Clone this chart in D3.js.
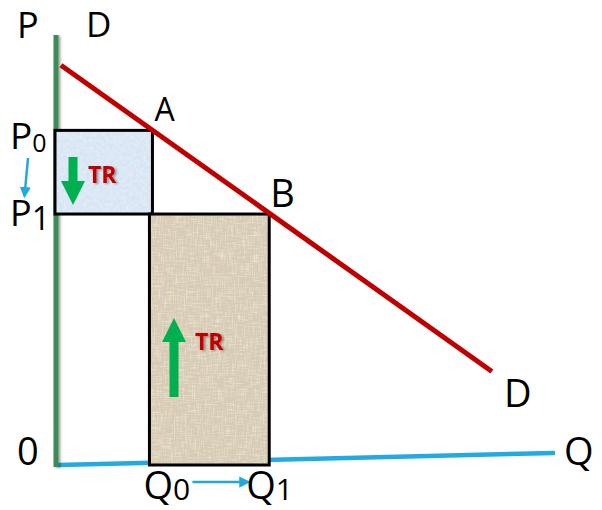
<!DOCTYPE html>
<html>
<head>
<meta charset="utf-8">
<script src="https://cdn.jsdelivr.net/npm/d3@7"></script>
<style>
  body { margin: 0; background: #fff; }
  text { font-family: "Open Sans", "Noto Sans", sans-serif; fill: #000; }
</style>
</head>
<body>
<div id="chart"></div>
<script>
const W = 602, H = 510;

// data (economic units, 0-100 on both axes)
const quantities = [19, 42.5];          // Q0, Q1
const prices = [78, 58.5];              // P0, P1
const demandEnds = [[0.6, 93.2], [87.3, 21.8]];
const qAxisEnd = [100, 2.8];
const qLabels = ["0", "1"];

const x = d3.scaleLinear().domain([0, 100]).range([58, 555]);
const y = d3.scaleLinear().domain([0, 100]).range([465, 36]);

const svg = d3.select("#chart").append("svg")
    .attr("width", W).attr("height", H);

const defs = svg.append("defs");

// light blue paper texture
const fb = defs.append("filter").attr("id", "texBlue").attr("x", 0).attr("y", 0).attr("width", 1).attr("height", 1);
fb.append("feTurbulence").attr("type", "fractalNoise").attr("baseFrequency", "0.3").attr("numOctaves", 2).attr("seed", 3).attr("result", "n");
fb.append("feColorMatrix").attr("in", "n").attr("type", "matrix")
  .attr("values", "0 0 0 0 0.95  0 0 0 0 0.97  0 0 0 0 1  0 0 0 0.7 -0.2").attr("result", "c");
fb.append("feComposite").attr("in", "c").attr("in2", "SourceGraphic").attr("operator", "atop");

// burlap texture
const fr = defs.append("filter").attr("id", "texBurlap").attr("x", 0).attr("y", 0).attr("width", 1).attr("height", 1);
fr.append("feTurbulence").attr("type", "fractalNoise").attr("baseFrequency", "0.9 0.08").attr("numOctaves", 2).attr("seed", 5).attr("result", "v");
fr.append("feTurbulence").attr("type", "fractalNoise").attr("baseFrequency", "0.08 0.9").attr("numOctaves", 2).attr("seed", 9).attr("result", "h");
fr.append("feBlend").attr("in", "v").attr("in2", "h").attr("mode", "multiply").attr("result", "vh");
fr.append("feColorMatrix").attr("in", "vh").attr("type", "matrix")
  .attr("values", "0 0 0 0 0.97  0 0 0 0 0.95  0 0 0 0 0.9  -1.6 0 0 0 0.75").attr("result", "c");
fr.append("feComposite").attr("in", "c").attr("in2", "SourceGraphic").attr("operator", "atop");

const shadow = defs.append("filter").attr("id", "shadow")
    .attr("filterUnits", "userSpaceOnUse").attr("x", 0).attr("y", 0).attr("width", W).attr("height", H);
shadow.append("feDropShadow").attr("dx", 2).attr("dy", 1).attr("stdDeviation", 1.2).attr("flood-color", "#000").attr("flood-opacity", 0.35);

defs.append("marker").attr("id", "blueHead")
    .attr("viewBox", "0 0 10 10").attr("refX", 8).attr("refY", 5)
    .attr("markerWidth", 4.5).attr("markerHeight", 4.5).attr("markerUnits", "strokeWidth")
    .attr("orient", "auto")
    .append("path").attr("d", "M0,0L10,5L0,10Z").attr("fill", "#22a8e0");

// axes
svg.append("line")
    .attr("x1", x(0)).attr("y1", y(0)).attr("x2", x(qAxisEnd[0])).attr("y2", y(qAxisEnd[1]))
    .attr("stroke", "#22aae2").attr("stroke-width", 4.5);
svg.append("line")
    .attr("x1", x(0) - 2).attr("y1", y(100) - 1).attr("x2", x(0) - 2).attr("y2", y(0) + 2)
    .attr("stroke", "#3b8c55").attr("stroke-width", 5).attr("filter", "url(#shadow)");

// TR rectangles
const rects = [
  { x0: 0, x1: quantities[0], y0: prices[1], y1: prices[0], fill: "#d6e4f3", tex: "texBlue" },
  { x0: quantities[0], x1: quantities[1], y0: 0, y1: prices[1], fill: "#d7cbb3", tex: "texBurlap" }
];
rects.forEach(r => {
  svg.append("rect")
    .attr("x", x(r.x0) - 3).attr("y", y(r.y1))
    .attr("width", x(r.x1) - x(r.x0) + 3).attr("height", y(r.y0) - y(r.y1))
    .attr("fill", r.fill).attr("filter", `url(#${r.tex})`);
  svg.append("rect")
    .attr("x", x(r.x0) - 3).attr("y", y(r.y1))
    .attr("width", x(r.x1) - x(r.x0) + 3).attr("height", y(r.y0) - y(r.y1))
    .attr("fill", "none").attr("stroke", "#000").attr("stroke-width", 3);
});

// demand curve
svg.append("line")
    .attr("x1", x(demandEnds[0][0])).attr("y1", y(demandEnds[0][1]))
    .attr("x2", x(demandEnds[1][0])).attr("y2", y(demandEnds[1][1]))
    .attr("stroke", "#c00000").attr("stroke-width", 5);

// green arrows
const arrow = d3.line();
function greenArrow(cx, yTail, yTip) {
  const dir = yTip < yTail ? -1 : 1;
  const headLen = 24, headW = 12, shaftW = 4.5;
  const yBase = yTip - dir * headLen;
  svg.append("path")
    .attr("d", arrow([
      [cx - shaftW, yTail], [cx - shaftW, yBase], [cx - headW, yBase], [cx, yTip],
      [cx + headW, yBase], [cx + shaftW, yBase], [cx + shaftW, yTail]
    ]) + "Z")
    .attr("fill", "#00b050");
}
greenArrow(73, 157, 205);
greenArrow(174, 397, 318);

// TR labels
[[88, 183], [195, 350]].forEach(p => {
  svg.append("text").attr("x", p[0]).attr("y", p[1])
    .attr("font-size", 23).attr("font-weight", "bold")
    .style("fill", "#c00000").attr("filter", "url(#shadow)")
    .text("TR");
});

// blue small arrows
svg.append("line")
    .attr("x1", 28).attr("y1", 158).attr("x2", 24.5).attr("y2", 196)
    .attr("stroke", "#22a8e0").attr("stroke-width", 2.5).attr("marker-end", "url(#blueHead)");
svg.append("line")
    .attr("x1", x(quantities[0]) + 40).attr("y1", 482).attr("x2", x(quantities[1]) - 21).attr("y2", 482)
    .attr("stroke", "#22a8e0").attr("stroke-width", 2.5).attr("marker-end", "url(#blueHead)");

// labels
function label(tx, ty, main, sub, size, subSize, subDy) {
  const t = svg.append("text").attr("x", tx).attr("y", ty).attr("font-size", size).text(main);
  if (sub) t.append("tspan").attr("font-size", subSize).attr("dy", subDy).text(sub);
}
label(x(0) - 41, y(100) + 2, "P", null, 36);
label(86, y(100) + 1, "D", null, 35);
label(x(quantities[0]) + 2, y(prices[0]) - 9, "A", null, 32);
label(x(quantities[1]) + 1, y(prices[1]) - 7, "B", null, 38);
label(10, y(prices[0]) + 19, "P", qLabels[0], 37, 25, 3);
label(10, y(prices[1]) + 12, "P", qLabels[1], 36, 32, 4);
label(17, y(0), "0", null, 38);
label(x(demandEnds[1][0]) + 12, y(demandEnds[1][1]) + 36, "D", null, 38);
label(x(qAxisEnd[0]) + 9, y(0), "Q", null, 38);
label(x(quantities[0]) - 9, 499, "Q", qLabels[0], 38, 30, 1);
label(x(quantities[1]) - 23, 499, "Q", qLabels[1], 38, 30, 1);
</script>
</body>
</html>
